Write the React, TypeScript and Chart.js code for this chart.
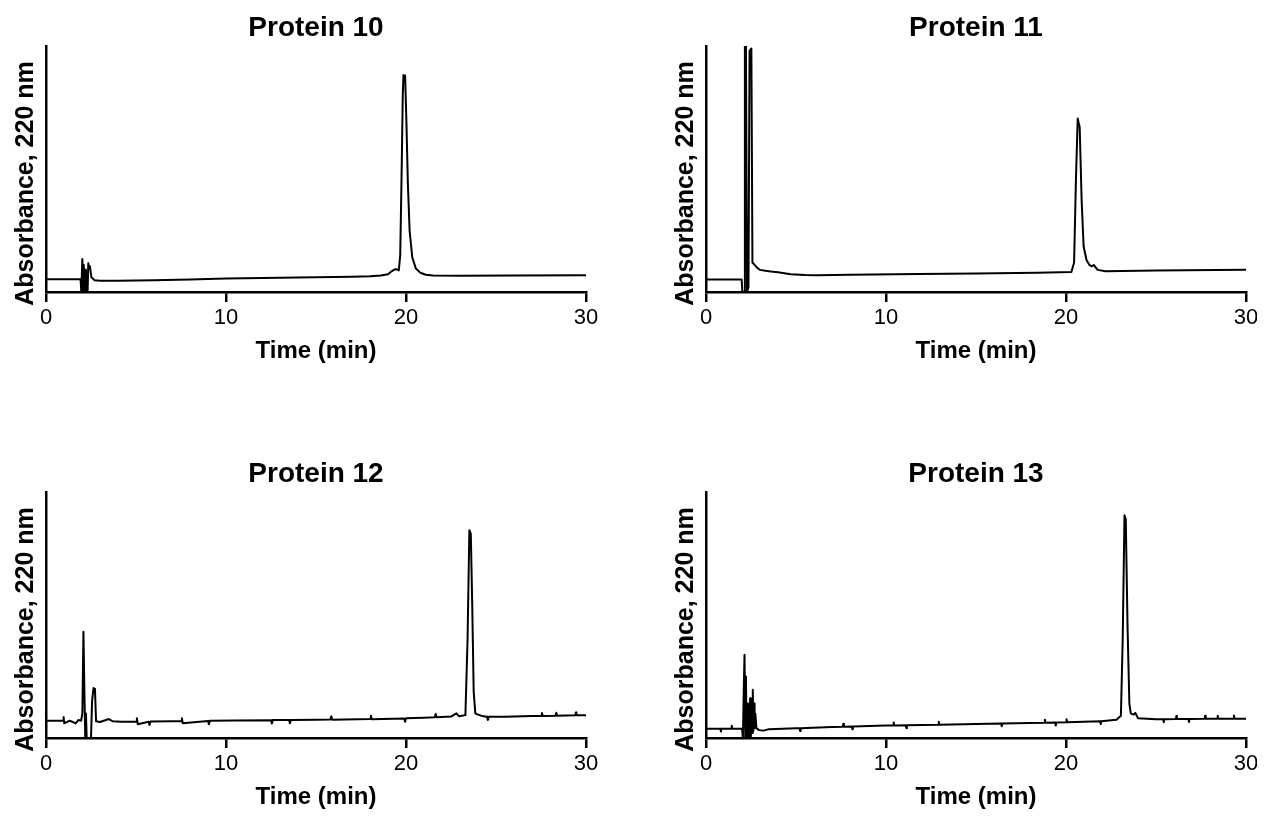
import React, { useEffect, useRef } from "react";
import { Chart, registerables } from "chart.js";

Chart.register(...registerables);

const FONT = "'Liberation Sans', Arial, Helvetica, sans-serif";
const X_MIN = 0;
const X_MAX = 30;
const X_STEP = 10;
const Y_MIN = 0;
const Y_MAX = 100;
const Y_LABEL = "Absorbance, 220 nm";
const X_LABEL = "Time (min)";
const titles = ["Protein 10", "Protein 11", "Protein 12", "Protein 13"];

// Protein 10 chromatogram (time in min, absorbance in % of full scale)
const p10Time = [0, 1.92, 1.96, 2.02, 2.06, 2.1, 2.14, 2.18, 2.22, 2.27, 2.31, 2.35, 2.4, 2.44, 2.52, 2.7, 3.0, 4.0, 6.0, 8.0, 10.0, 12.0, 15.0, 17.0, 18.0, 18.6, 19.0, 19.2, 19.35, 19.5, 19.6, 19.68, 19.76, 19.82, 19.86, 19.9, 19.95, 20.02, 20.1, 20.2, 20.35, 20.55, 20.8, 21.1, 21.5, 23.0, 26.0, 30.0];
const p10Abs = [5.2, 5.2, 0, 13.4, 0, 11, 0, 9, 0, 8, 0, 11.7, 9.5, 10.5, 6, 4.8, 4.6, 4.6, 4.8, 5.1, 5.5, 5.7, 6.0, 6.2, 6.4, 6.7, 7.2, 8.4, 9.1, 9.2, 8.8, 15, 50, 80, 88.2, 87, 88, 70, 45, 25, 14, 9.5, 7.8, 7.0, 6.7, 6.6, 6.7, 6.8];

// Protein 11
const p11Time = [0, 1.98, 2.02, 2.12, 2.16, 2.22, 2.28, 2.36, 2.42, 2.52, 2.58, 2.7, 2.85, 3.0, 3.3, 3.6, 4.0, 4.7, 5.5, 6.2, 8.0, 11.8, 15.0, 18.4, 20.3, 20.45, 20.55, 20.65, 20.76, 20.87, 20.98, 21.14, 21.3, 21.43, 21.54, 21.65, 21.76, 22.2, 25.0, 30.0];
const p11Abs = [5.1, 5.1, 0, 0, 100, 100, 0, 2, 98, 99, 12, 11, 9.8, 9.0, 8.6, 8.3, 8.0, 7.2, 6.9, 6.8, 7.0, 7.3, 7.5, 7.8, 8.1, 12, 45, 70.5, 67, 37, 18.5, 13, 11, 10.4, 11, 10, 9, 8.4, 8.7, 9.0];

// Protein 12
const p12Time = [0, 0.5, 0.95, 0.98, 1.01, 1.3, 1.5, 1.65, 1.8, 1.95, 2.02, 2.08, 2.14, 2.18, 2.22, 2.26, 2.5, 2.56, 2.64, 2.72, 2.78, 3.0, 3.5, 3.7, 4.2, 5.0, 5.05, 5.1, 5.7, 5.75, 5.8, 7.0, 7.5, 7.55, 7.6, 9.0, 9.05, 9.1, 10.5, 12.5, 12.55, 12.6, 13.5, 13.55, 13.6, 15.0, 15.8, 15.85, 15.9, 18.0, 18.05, 18.1, 19.9, 19.95, 20.0, 21.0, 21.6, 21.65, 21.7, 22.5, 22.8, 22.95, 23.3, 23.42, 23.52, 23.6, 23.68, 23.76, 23.85, 24.0, 24.3, 24.5, 24.55, 24.6, 25.5, 27.0, 27.5, 27.55, 27.6, 28.3, 28.35, 28.4, 29.4, 29.45, 29.5, 30.0];
const p12Abs = [7.0, 7.0, 7.0, 8.5, 6.0, 7.0, 6.5, 5.9, 7.3, 7.0, 10, 43.2, 16, 0, 10, 0, 0, 15, 20.3, 20, 6.8, 6.5, 7.7, 6.8, 6.6, 6.6, 8.0, 5.6, 6.6, 5.3, 6.7, 6.8, 6.8, 8.0, 6.0, 6.9, 5.6, 7.0, 7.1, 7.2, 5.9, 7.3, 7.3, 6.0, 7.3, 7.4, 7.5, 8.8, 7.4, 7.7, 9.0, 7.6, 7.9, 6.6, 8.0, 8.2, 8.4, 9.8, 8.4, 8.7, 10, 8.8, 9.3, 40, 84.5, 83, 54, 19, 10, 9.5, 8.8, 8.6, 7.3, 8.6, 8.6, 8.9, 8.9, 10.2, 8.9, 9.0, 10.3, 9.0, 9.2, 10.5, 9.2, 9.2];

// Protein 13
const p13Time = [0, 0.8, 0.83, 0.86, 1.4, 1.43, 1.46, 2.0, 2.05, 2.1, 2.14, 2.18, 2.22, 2.25, 2.3, 2.33, 2.38, 2.41, 2.45, 2.49, 2.53, 2.56, 2.6, 2.63, 2.67, 2.7, 2.74, 2.8, 2.95, 3.2, 3.5, 5.0, 5.2, 5.23, 5.26, 7.0, 7.6, 7.63, 7.66, 8.1, 8.13, 8.16, 10.0, 10.4, 10.43, 10.46, 11.1, 11.13, 11.16, 12.9, 12.93, 12.96, 15.0, 16.4, 16.43, 16.46, 18.8, 18.83, 18.86, 19.4, 19.43, 19.46, 20.0, 20.03, 20.06, 21.9, 21.93, 21.96, 22.8, 23.05, 23.15, 23.25, 23.32, 23.42, 23.52, 23.6, 23.75, 23.85, 24.0, 25.0, 25.4, 25.43, 25.46, 26.1, 26.13, 26.16, 26.8, 26.83, 26.86, 27.7, 27.73, 27.76, 28.4, 28.43, 28.46, 29.3, 29.33, 29.36, 30.0];
const p13Abs = [3.8, 3.8, 2.6, 3.8, 3.8, 5.0, 3.8, 3.8, 0, 20, 33.8, 0, 25, 0, 14, 0, 12, 0, 16.2, 0, 14, 2, 19.6, 3, 14, 4, 10, 4, 3.2, 3.0, 3.6, 4.0, 4.0, 2.8, 4.0, 4.5, 4.6, 5.8, 4.6, 4.7, 3.6, 4.7, 5.1, 5.1, 6.3, 5.1, 5.2, 4.0, 5.2, 5.4, 6.6, 5.4, 5.7, 5.9, 4.8, 5.9, 6.2, 7.4, 6.2, 6.3, 5.1, 6.3, 6.4, 7.6, 6.4, 6.8, 5.7, 6.8, 7.4, 9, 40, 90.5, 89, 45, 14, 10, 9.5, 10.2, 8.0, 7.6, 7.6, 6.4, 7.6, 7.7, 8.9, 7.7, 7.7, 6.5, 7.7, 7.8, 9.0, 7.8, 7.8, 9.0, 7.8, 7.8, 9.1, 7.8, 7.8];

const yLabelPlugin = {
  id: "yLabel",
  afterDraw(chart: any, _args: any, opts: any) {
    const { ctx, chartArea } = chart;
    ctx.save();
    ctx.translate(chartArea.left - opts.offsetX, (chartArea.top + chartArea.bottom) / 2 + opts.shiftY);
    ctx.rotate(-Math.PI / 2);
    ctx.font = opts.font;
    ctx.fillStyle = "#000";
    ctx.textAlign = "center";
    ctx.textBaseline = "middle";
    ctx.fillText(opts.text, 0, 0);
    ctx.restore();
  },
};

const CANVAS_H = 366;
const AXIS_LEFT_PAD = 46;
const PLOT_W = 540;

function Panel(props: { left: number; top: number; width: number; title: string; times: number[]; values: number[] }) {
  const ref = useRef<HTMLCanvasElement | null>(null);
  const { left, top, width, title, times, values } = props;
  useEffect(() => {
    if (!ref.current) return;
    const padRight = width - AXIS_LEFT_PAD - PLOT_W;
    const chart = new Chart(ref.current, {
      type: "line",
      data: {
        datasets: [
          {
            data: times.map((t, i) => ({ x: t, y: values[i] })),
            borderColor: "#000",
            borderWidth: 2,
            borderJoinStyle: "round",
            borderCapStyle: "round",
            pointRadius: 0,
            tension: 0,
            fill: false,
          },
        ],
      },
      options: {
        responsive: false,
        animation: false,
        devicePixelRatio: 1,
        layout: { padding: { left: AXIS_LEFT_PAD, right: padRight, top: 0, bottom: 0 } },
        plugins: {
          legend: { display: false },
          tooltip: { enabled: false },
          title: {
            display: true,
            text: title,
            color: "#000",
            font: { family: FONT, size: 28, weight: "bold" },
            padding: { top: 11.2, bottom: 1.2 },
          },
          yLabel: { text: Y_LABEL, font: `bold 25px ${FONT}`, offsetX: 20, shiftY: 14.5 },
        } as any,
        scales: {
          x: {
            type: "linear",
            min: X_MIN,
            max: X_MAX,
            ticks: {
              stepSize: X_STEP,
              color: "#000",
              padding: 3,
              font: { family: FONT, size: 22 },
              maxRotation: 0,
            },
            grid: {
              display: true,
              drawOnChartArea: false,
              drawTicks: true,
              tickLength: 10,
              tickColor: "#000",
              tickWidth: 2.5,
              color: "#000",
              lineWidth: 2.5,
            },
            border: { display: true, color: "#000", width: 2.5 },
            title: {
              display: true,
              text: X_LABEL,
              color: "#000",
              font: { family: FONT, size: 24, weight: "bold" },
              padding: { top: 0, bottom: 0 },
            },
            afterFit: (s: any) => {
              s.height = 74;
              s.paddingLeft = 0;
              s.paddingRight = 0;
            },
          },
          y: {
            min: Y_MIN,
            max: Y_MAX,
            ticks: { display: false },
            grid: { display: false, drawTicks: false },
            border: { display: true, color: "#000", width: 2.5 },
            afterFit: (s: any) => {
              s.width = 0;
            },
          },
        },
      } as any,
      plugins: [yLabelPlugin as any],
    });
    return () => chart.destroy();
  }, [width, title, times, values]);
  return (
    <canvas
      ref={ref}
      width={width}
      height={CANVAS_H}
      style={{ position: "absolute", left, top, width, height: CANVAS_H }}
    />
  );
}

export default function App() {
  return (
    <div style={{ position: "absolute", left: 0, top: 0, width: 1264, height: 816, background: "#fff", overflow: "hidden" }}>
      <Panel left={0} top={0} width={600} title={titles[0]} times={p10Time} values={p10Abs} />
      <Panel left={660} top={0} width={597} title={titles[1]} times={p11Time} values={p11Abs} />
      <Panel left={0} top={446} width={600} title={titles[2]} times={p12Time} values={p12Abs} />
      <Panel left={660} top={446} width={597} title={titles[3]} times={p13Time} values={p13Abs} />
    </div>
  );
}
